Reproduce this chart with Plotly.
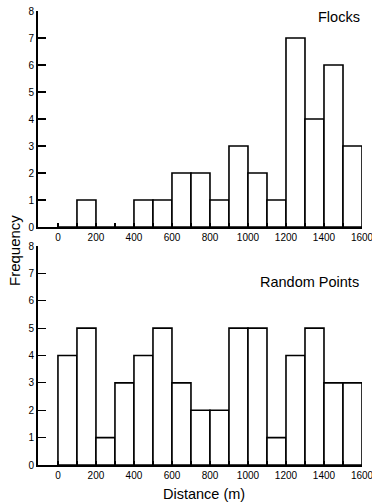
import plotly.graph_objects as go

bin_starts = [0, 100, 200, 300, 400, 500, 600, 700, 800, 900, 1000, 1100, 1200, 1300, 1400, 1500]
bin_width = 100
flocks = [0, 1, 0, 0, 1, 1, 2, 2, 1, 3, 2, 1, 7, 4, 6, 3]
random_points = [4, 5, 1, 3, 4, 5, 3, 2, 2, 5, 5, 1, 4, 5, 3, 3]
x_ticks = [0, 200, 400, 600, 800, 1000, 1200, 1400, 1600]
y_ticks = [0, 1, 2, 3, 4, 5, 6, 7, 8]

W, H = 372, 504
centers = [s + bin_width / 2 for s in bin_starts]

def py(p):
    return 1 - p / H

fig = go.Figure()
bar_style = dict(width=[bin_width] * len(bin_starts), marker=dict(color="white", line=dict(color="black", width=1.6)),
                 showlegend=False, hoverinfo="skip")
fig.add_trace(go.Bar(x=centers, y=flocks, xaxis="x", yaxis="y", **bar_style))
fig.add_trace(go.Bar(x=centers, y=random_points, xaxis="x2", yaxis="y2", **bar_style))

font = dict(family="Liberation Sans, Arial, sans-serif", color="black")
xcommon = dict(range=[-105, 1600], tickvals=x_ticks, ticks="inside", ticklen=4, tickwidth=1.2,
               tickcolor="black", showline=True, linecolor="black", linewidth=2, showgrid=False,
               zeroline=False, tickfont=dict(size=10, **font), fixedrange=True, automargin=False,
               ticklabeloverflow="allow",
               minor=dict(dtick=100, tick0=0, ticks="inside", ticklen=4, tickcolor="black", tickwidth=1.2, showgrid=False),
               domain=[38 / W, 362 / W])
ycommon = dict(range=[0, 8], tickvals=y_ticks, ticks="inside", ticklen=8, tickwidth=1.2, tickcolor="black",
               showline=True, linecolor="black", linewidth=2, showgrid=False, zeroline=False, automargin=False,
               tickfont=dict(size=10, **font), fixedrange=True)

fig.update_layout(
    width=W, height=H, margin=dict(l=0, r=0, t=0, b=0), paper_bgcolor="white", plot_bgcolor="white",
    bargap=0,
    xaxis=dict(anchor="y", **xcommon),
    yaxis=dict(anchor="x", domain=[py(227), py(11)], **ycommon),
    xaxis2=dict(anchor="y2", **xcommon),
    yaxis2=dict(anchor="x2", domain=[py(465), py(246)], **ycommon),
    annotations=[
        dict(text="Flocks", x=362 / W, y=py(17), xref="paper", yref="paper", xanchor="right", yanchor="middle",
             showarrow=False, font=dict(size=14.5, **font)),
        dict(text="Random Points", x=361 / W, y=py(282), xref="paper", yref="paper", xanchor="right",
             yanchor="middle", showarrow=False, font=dict(size=14.5, **font)),
        dict(text="Frequency", x=14 / W, y=py(251), xref="paper", yref="paper", xanchor="center",
             yanchor="middle", textangle=-90, showarrow=False, font=dict(size=15, **font)),
        dict(text="Distance (m)", x=204 / W, y=py(494), xref="paper", yref="paper", xanchor="center",
             yanchor="middle", showarrow=False, font=dict(size=14.5, **font)),
    ],
)

fig.write_html("out.html", config={"displayModeBar": False, "staticPlot": True},
               post_script="document.body.style.margin='0';document.body.style.overflow='hidden';")
